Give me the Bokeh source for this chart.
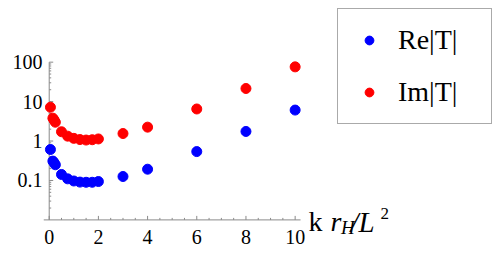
import math
from bokeh.plotting import figure
from bokeh.models import (Range1d, Label, Legend, LegendItem, FixedTicker,
                          ColumnDataSource, LogTickFormatter)
from bokeh.core.properties import value
from bokeh.embed import file_html
from bokeh.resources import INLINE

# ---- data ----
k_vals = [0.05, 0.15, 0.2, 0.25, 0.5, 0.75, 1.0, 1.25, 1.5, 1.75, 2.0, 3, 4, 6, 8, 10]
re_T = [0.61, 0.31, 0.28, 0.25, 0.142, 0.11, 0.097, 0.091, 0.09, 0.09, 0.094, 0.126, 0.193, 0.54, 1.75, 6.1]
im_T = [7.2, 3.8, 3.4, 3.0, 1.72, 1.33, 1.17, 1.09, 1.06, 1.08, 1.13, 1.55, 2.25, 6.5, 21.5, 76]
series_labels = ["Re|T|", "Im|T|"]
series_colors = ["#0000ff", "#ff0000"]
x_axis_limits = (-0.232, 10.22)
y_axis_limits = (0.01, 100)
x_major_ticks = [0, 2, 4, 6, 8, 10]
x_tick_labels = ["0", "2", "4", "6", "8", "10"]
x_minor_ticks = [0.5, 1, 1.5, 2.5, 3, 3.5, 4.5, 5, 5.5, 6.5, 7, 7.5, 8.5, 9, 9.5]
y_major_ticks = [0.1, 1, 10, 100]
y_tick_labels = ["0.1", "1", "10", "100"]
y_minor_ticks = [m * d for d in [0.01, 0.1, 1, 10] for m in range(2, 10)]

SERIF = "Liberation Serif, serif"
AXIS_GRAY = "#8a8a8a"

src = ColumnDataSource(data=dict(k=k_vals, re=re_T, im=im_T))

# The frame covers the whole canvas right of the y tick labels, so that the
# legend and the x-axis label (drawn outside the axes box) are not clipped.
p = figure(width=500, height=253, x_range=Range1d(-0.232, 18.35), y_range=Range1d(0.001406, 3664),
           y_axis_type="log", x_axis_location=None, output_backend="svg",
           toolbar_location=None, title=None,
           min_border_left=43, min_border_right=0, min_border_top=0, min_border_bottom=0)
p.outline_line_color = None
p.xgrid.visible = False
p.ygrid.visible = False

# y axis: Bokeh tick labels in the left panel; line and ticks at x = 0
ya = p.yaxis[0]
ya.ticker = FixedTicker(ticks=y_major_ticks, minor_ticks=[])
ya.formatter = LogTickFormatter(min_exponent=3)
ya.major_label_overrides = {t: s for t, s in zip(y_major_ticks, y_tick_labels)}
ya.axis_line_color = None
ya.major_tick_line_color = None
ya.minor_tick_line_color = None
ya.major_tick_in = 0
ya.major_tick_out = 0
ya.minor_tick_in = 0
ya.minor_tick_out = 0
ya.major_label_standoff = 1
ya.major_label_text_font = SERIF
ya.major_label_text_font_size = "20px"
ya.major_label_text_color = "black"

p.segment(x0=[0], y0=[y_axis_limits[0]], x1=[0], y1=[y_axis_limits[1]],
          line_color=AXIS_GRAY, line_width=1)
p.ray(x=[0] * len(y_major_ticks), y=y_major_ticks, length=4, length_units="screen",
      angle=0, line_color=AXIS_GRAY, line_width=1)
p.ray(x=[0] * len(y_minor_ticks), y=y_minor_ticks, length=2, length_units="screen",
      angle=0, line_color=AXIS_GRAY, line_width=1)

# x axis along y = 0.01
y0 = y_axis_limits[0]
p.segment(x0=[x_axis_limits[0]], y0=[y0], x1=[x_axis_limits[1]], y1=[y0],
          line_color=AXIS_GRAY, line_width=1)
p.ray(x=x_major_ticks, y=[y0] * len(x_major_ticks), length=4, length_units="screen",
      angle=math.pi / 2, line_color=AXIS_GRAY, line_width=1)
p.ray(x=x_minor_ticks, y=[y0] * len(x_minor_ticks), length=2, length_units="screen",
      angle=math.pi / 2, line_color=AXIS_GRAY, line_width=1)
p.text(x=x_major_ticks, y=[y0] * len(x_major_ticks), text=x_tick_labels,
       text_font=value(SERIF), text_font_size="20px", text_color="black",
       text_align="center", text_baseline="alphabetic", y_offset=17)

rb = p.scatter("k", "re", source=src, size=10, color=series_colors[0])
rr = p.scatter("k", "im", source=src, size=10, color=series_colors[1])

legend = Legend(items=[LegendItem(label=series_labels[0], renderers=[rb]),
                       LegendItem(label=series_labels[1], renderers=[rr])],
                location=(294, 129), orientation="vertical")
legend.border_line_color = "#555555"
legend.border_line_width = 1
legend.background_fill_color = "white"
legend.background_fill_alpha = 1
legend.padding = 15
legend.margin = 0
legend.spacing = 20
legend.glyph_width = 32
legend.glyph_height = 22
legend.label_standoff = 13
legend.label_width = 78
legend.label_height = 26
legend.label_text_font = SERIF
legend.label_text_font_size = "28px"
legend.label_text_color = "black"
legend.label_text_baseline = "middle"
p.add_layout(legend, "center")

# x-axis label  k r_H / L^2
def lab(text, x, y, size, style="normal"):
    p.add_layout(Label(x=x, y=y, x_units="screen", y_units="screen", text=text,
                       text_font=SERIF, text_font_size=size, text_font_style=style,
                       text_align="left", text_baseline="alphabetic", text_color="black"))

lab("k", 265, 32, "28px")
lab("r", 287, 32, "28px", "italic")
lab("H", 297.5, 26, "19px", "italic")
lab("/L", 307, 32, "29px", "italic")
lab("2", 337, 40, "17px")

open("out.html", "w").write(file_html(p, INLINE))
